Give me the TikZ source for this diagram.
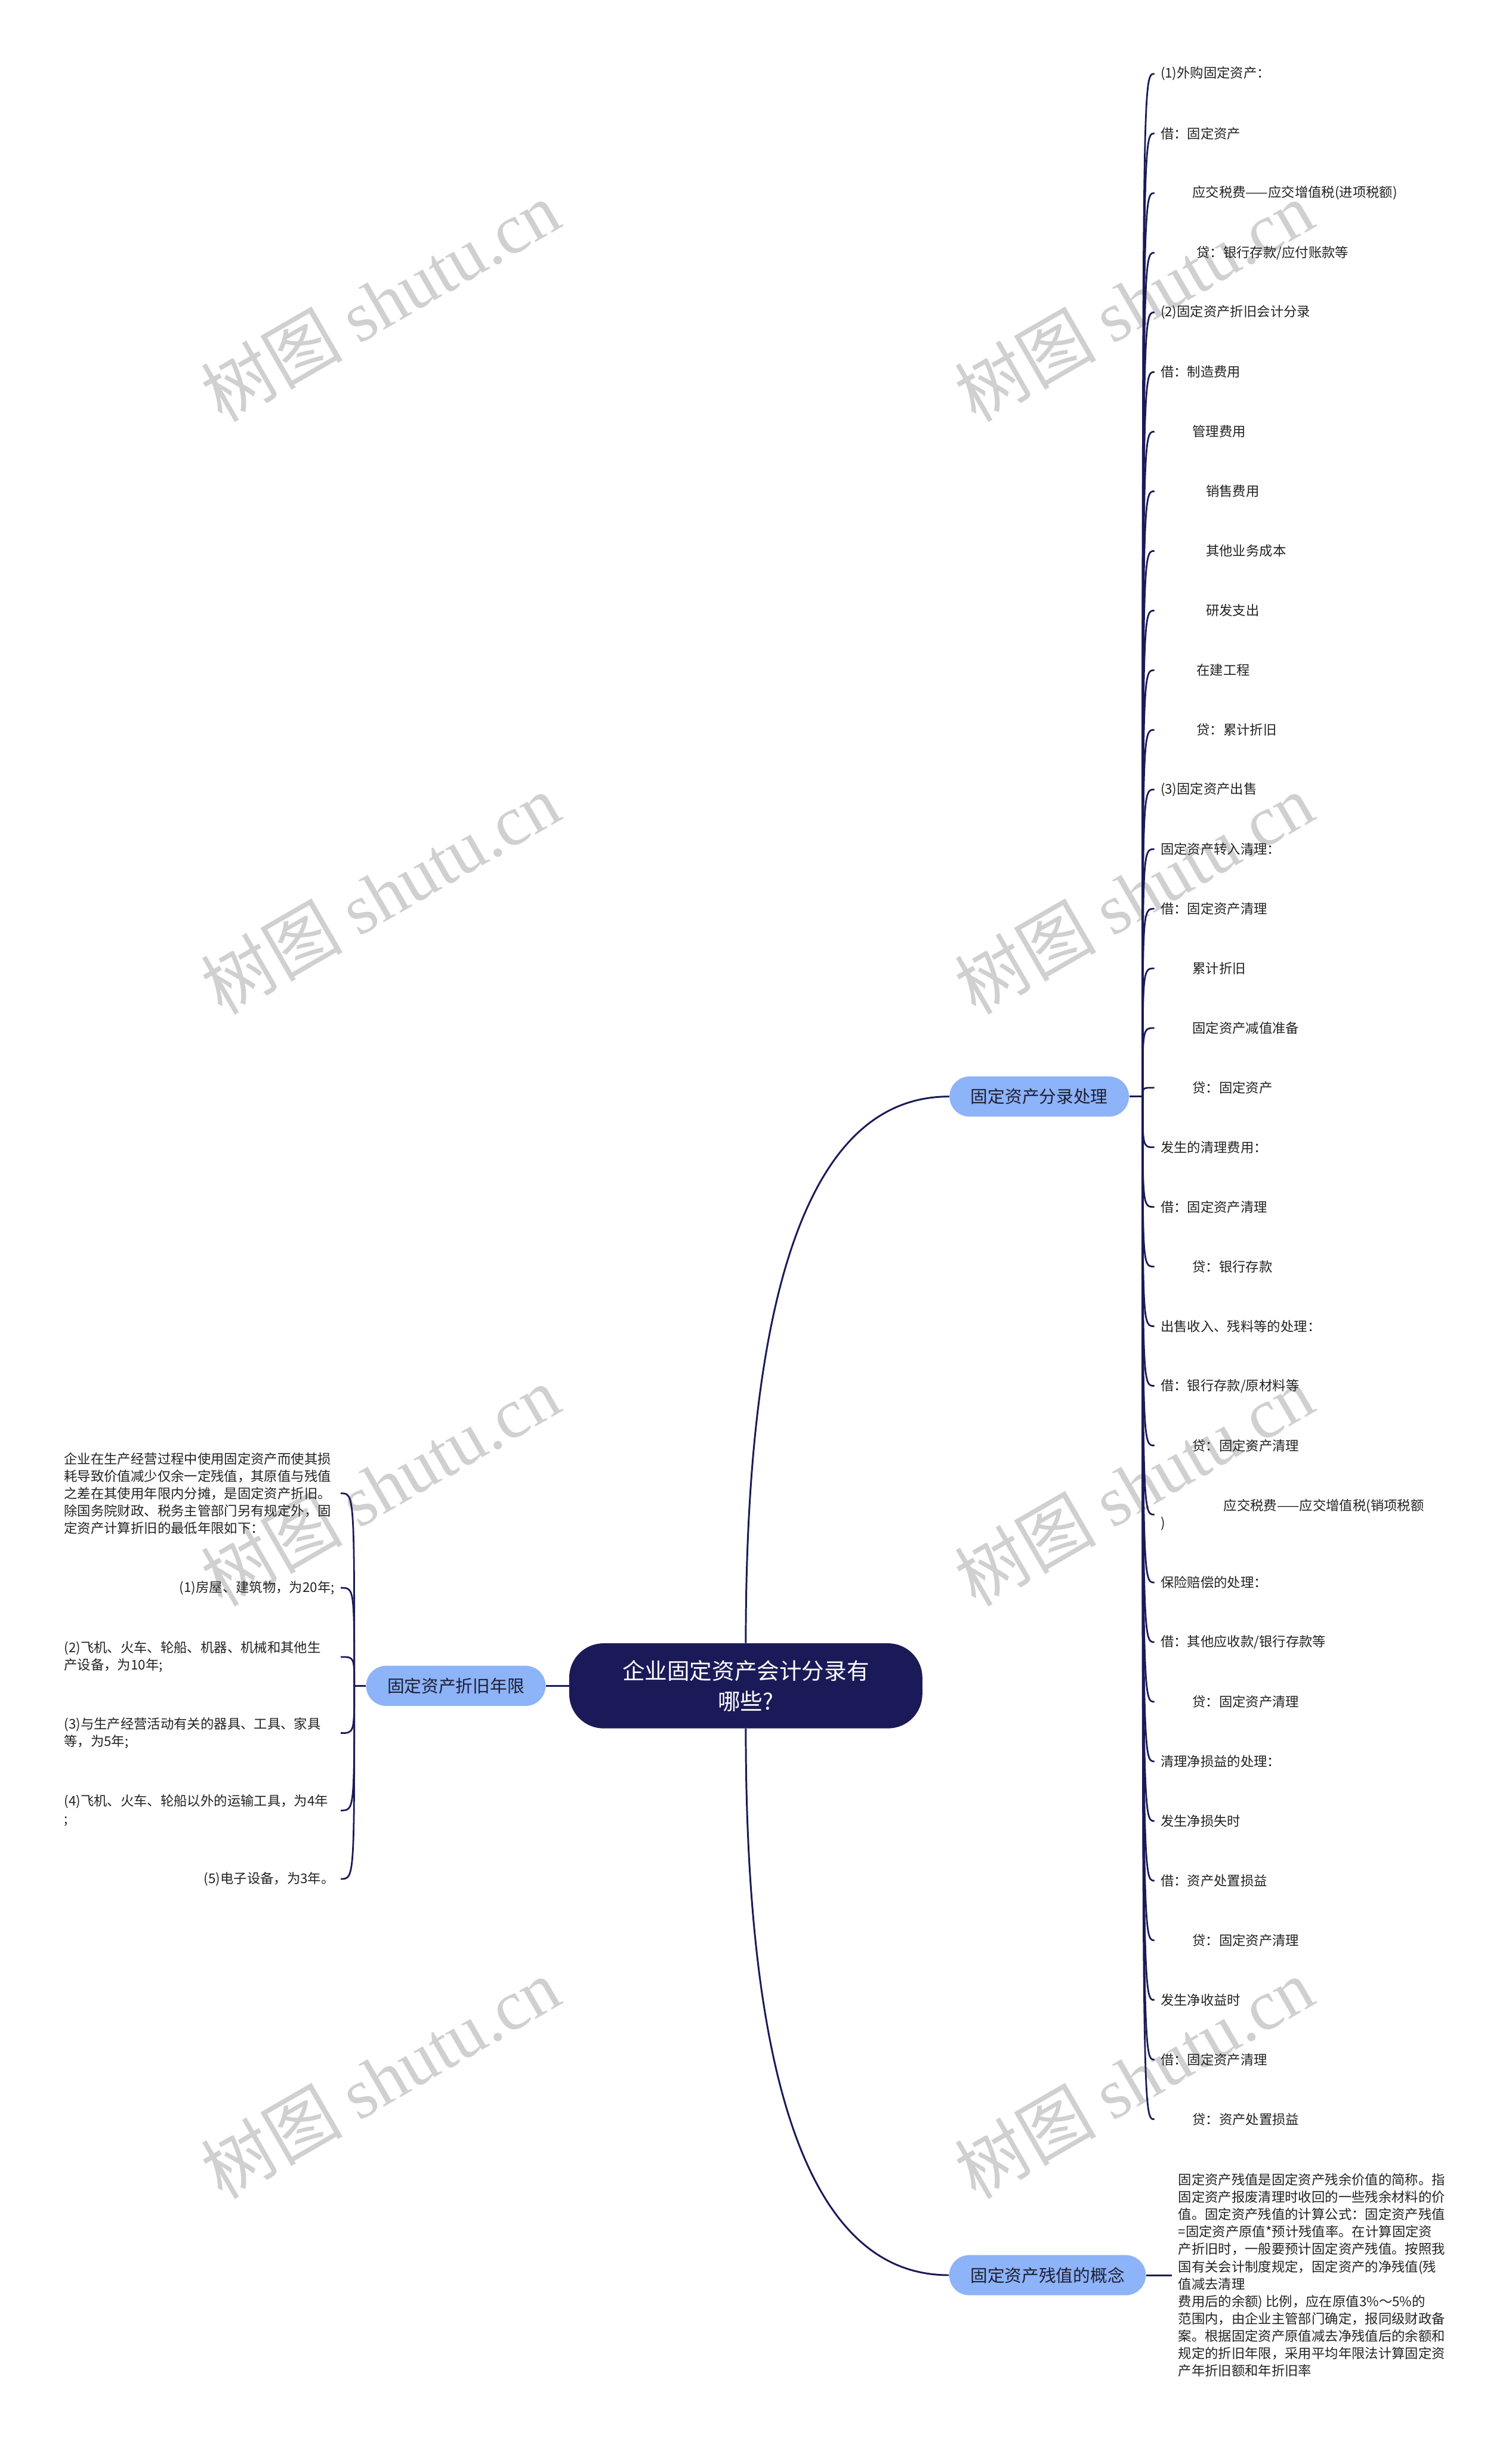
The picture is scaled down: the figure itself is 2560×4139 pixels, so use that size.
\documentclass[tikz,border=0pt]{standalone}
\usepackage{fontspec}
\setmainfont{Noto Sans CJK SC}
\newfontfamily\wmlatin{Liberation Serif}

\definecolor{inkblue}{RGB}{27,26,88}
\definecolor{skyblue}{RGB}{141,179,248}
\definecolor{leafink}{RGB}{34,34,34}
\definecolor{wmgray}{RGB}{208,208,208}

\tikzset{
  topic/.style={fill=inkblue, text=white, rounded corners=29pt, minimum width=299pt,
    minimum height=72pt, align=center, font=\fontsize{19}{26}\selectfont},
  branch/.style={fill=skyblue, text={rgb,255:red,30;green,30;blue,50}, rounded corners=17pt,
    minimum height=34pt, inner xsep=18pt, font=\fontsize{14.5}{18}\selectfont},
  leaf/.style={inner xsep=5pt, inner ysep=2pt, align=left, text=leafink,
    font=\fontsize{11.3}{14.7}\selectfont},
  leafR/.style={leaf, anchor=west},
  leafL/.style={leaf, anchor=east},
  trunk/.style={draw=inkblue, line width=1.5pt},
  twig/.style={draw=inkblue, line width=1.4pt,
    to path={.. controls (\tikztostart |- \tikztotarget) .. (\tikztotarget)}},
  wmtext/.style={text=wmgray, rotate=30, font=\fontsize{60}{60}\selectfont}
}

\begin{document}
\begin{tikzpicture}[x=0.5pt, y=-0.5pt]
  \useasboundingbox (0,0) rectangle (2560,4139);

  % watermark
  \node[wmtext] (wm1) at (644,510) {树图 {\wmlatin shutu.cn}};
  \node[wmtext] (wm2) at (1920,510) {树图 {\wmlatin shutu.cn}};
  \node[wmtext] (wm3) at (644,1513) {树图 {\wmlatin shutu.cn}};
  \node[wmtext] (wm4) at (1920,1513) {树图 {\wmlatin shutu.cn}};
  \node[wmtext] (wm5) at (644,2516) {树图 {\wmlatin shutu.cn}};
  \node[wmtext] (wm6) at (1920,2516) {树图 {\wmlatin shutu.cn}};
  \node[wmtext] (wm7) at (644,3519) {树图 {\wmlatin shutu.cn}};
  \node[wmtext] (wm8) at (1920,3519) {树图 {\wmlatin shutu.cn}};

  % centre and main branches
  \node[topic] (root) at (1263,2855) {企业固定资产会计分录有\\哪些?};
  \node[branch] (entry) at (1760,1857) {固定资产分录处理};
  \node[branch] (years) at (772,2855) {固定资产折旧年限};
  \node[branch] (salvage) at (1774,3853) {固定资产残值的概念};

  \draw[trunk] (root.north) .. controls +(0,-783) and +(-158,0) .. (entry.west);
  \draw[trunk] (root.south) .. controls +(0,783) and +(-158,0) .. (salvage.west);
  \draw[trunk] (root.west) -- (years.east);

  % journal entries
  \coordinate (hubR) at (1935,1857);
  \node[leafR] (a0) at (1955,125) {(1)外购固定资产：};
  \node[leafR] (a1) at (1955,226) {借：固定资产};
  \node[leafR] (a2) at (1955,327) {\hspace*{27pt}应交税费——应交增值税(进项税额)};
  \node[leafR] (a3) at (1955,428) {\hspace*{30.5pt}贷：银行存款/应付账款等};
  \node[leafR] (a4) at (1955,529) {(2)固定资产折旧会计分录};
  \node[leafR] (a5) at (1955,630) {借：制造费用};
  \node[leafR] (a6) at (1955,731) {\hspace*{27pt}管理费用};
  \node[leafR] (a7) at (1955,832) {\hspace*{38.5pt}销售费用};
  \node[leafR] (a8) at (1955,933) {\hspace*{38.5pt}其他业务成本};
  \node[leafR] (a9) at (1955,1034) {\hspace*{38.5pt}研发支出};
  \node[leafR] (a10) at (1955,1135) {\hspace*{30.5pt}在建工程};
  \node[leafR] (a11) at (1955,1236) {\hspace*{30.5pt}贷：累计折旧};
  \node[leafR] (a12) at (1955,1337) {(3)固定资产出售};
  \node[leafR] (a13) at (1955,1438) {固定资产转入清理：};
  \node[leafR] (a14) at (1955,1539) {借：固定资产清理};
  \node[leafR] (a15) at (1955,1640) {\hspace*{27pt}累计折旧};
  \node[leafR] (a16) at (1955,1741) {\hspace*{27pt}固定资产减值准备};
  \node[leafR] (a17) at (1955,1842) {\hspace*{27pt}贷：固定资产};
  \node[leafR] (a18) at (1955,1943) {发生的清理费用：};
  \node[leafR] (a19) at (1955,2044) {借：固定资产清理};
  \node[leafR] (a20) at (1955,2145) {\hspace*{27pt}贷：银行存款};
  \node[leafR] (a21) at (1955,2246) {出售收入、残料等的处理：};
  \node[leafR] (a22) at (1955,2347) {借：银行存款/原材料等};
  \node[leafR] (a23) at (1955,2448) {\hspace*{27pt}贷：固定资产清理};
  \node[leafR] (a24) at (1955,2565) {\hspace*{53.5pt}应交税费——应交增值税(销项税额\\)};
  \node[leafR] (a25) at (1955,2680) {保险赔偿的处理：};
  \node[leafR] (a26) at (1955,2781) {借：其他应收款/银行存款等};
  \node[leafR] (a27) at (1955,2882) {\hspace*{27pt}贷：固定资产清理};
  \node[leafR] (a28) at (1955,2983) {清理净损益的处理：};
  \node[leafR] (a29) at (1955,3084) {发生净损失时};
  \node[leafR] (a30) at (1955,3185) {借：资产处置损益};
  \node[leafR] (a31) at (1955,3286) {\hspace*{27pt}贷：固定资产清理};
  \node[leafR] (a32) at (1955,3387) {发生净收益时};
  \node[leafR] (a33) at (1955,3488) {借：固定资产清理};
  \node[leafR] (a34) at (1955,3589) {\hspace*{27pt}贷：资产处置损益};

  \draw[trunk] (entry.east) -- (hubR);
  \draw[twig] (hubR) to (a0.west);
  \draw[twig] (hubR) to (a1.west);
  \draw[twig] (hubR) to (a2.west);
  \draw[twig] (hubR) to (a3.west);
  \draw[twig] (hubR) to (a4.west);
  \draw[twig] (hubR) to (a5.west);
  \draw[twig] (hubR) to (a6.west);
  \draw[twig] (hubR) to (a7.west);
  \draw[twig] (hubR) to (a8.west);
  \draw[twig] (hubR) to (a9.west);
  \draw[twig] (hubR) to (a10.west);
  \draw[twig] (hubR) to (a11.west);
  \draw[twig] (hubR) to (a12.west);
  \draw[twig] (hubR) to (a13.west);
  \draw[twig] (hubR) to (a14.west);
  \draw[twig] (hubR) to (a15.west);
  \draw[twig] (hubR) to (a16.west);
  \draw[twig] (hubR) to (a17.west);
  \draw[twig] (hubR) to (a18.west);
  \draw[twig] (hubR) to (a19.west);
  \draw[twig] (hubR) to (a20.west);
  \draw[twig] (hubR) to (a21.west);
  \draw[twig] (hubR) to (a22.west);
  \draw[twig] (hubR) to (a23.west);
  \draw[twig] (hubR) to (a24.west);
  \draw[twig] (hubR) to (a25.west);
  \draw[twig] (hubR) to (a26.west);
  \draw[twig] (hubR) to (a27.west);
  \draw[twig] (hubR) to (a28.west);
  \draw[twig] (hubR) to (a29.west);
  \draw[twig] (hubR) to (a30.west);
  \draw[twig] (hubR) to (a31.west);
  \draw[twig] (hubR) to (a32.west);
  \draw[twig] (hubR) to (a33.west);
  \draw[twig] (hubR) to (a34.west);

  % depreciation years
  \coordinate (hubL) at (600,2855);
  \node[leafL, text width=229pt] (c0) at (577,2529) {企业在生产经营过程中使用固定资产而使其损\\耗导致价值减少仅余一定残值，其原值与残值\\之差在其使用年限内分摊，是固定资产折旧。\\除国务院财政、税务主管部门另有规定外，固\\定资产计算折旧的最低年限如下：};
  \node[leafL] (c1) at (577,2689) {(1)房屋、建筑物，为20年;};
  \node[leafL, text width=229pt] (c2) at (577,2806) {(2)飞机、火车、轮船、机器、机械和其他生\\产设备，为10年;};
  \node[leafL, text width=229pt] (c3) at (577,2935) {(3)与生产经营活动有关的器具、工具、家具\\等，为5年;};
  \node[leafL, text width=229pt] (c4) at (577,3066) {(4)飞机、火车、轮船以外的运输工具，为4年\\;};
  \node[leafL] (c5) at (577,3182) {(5)电子设备，为3年。};

  \draw[trunk] (years.west) -- (hubL);
  \draw[twig] (hubL) to (c0.east);
  \draw[twig] (hubL) to (c1.east);
  \draw[twig] (hubL) to (c2.east);
  \draw[twig] (hubL) to (c3.east);
  \draw[twig] (hubL) to (c4.east);
  \draw[twig] (hubL) to (c5.east);

  % salvage value
  \node[leafR] (d0) at (1985,3853) {固定资产残值是固定资产残余价值的简称。指\\固定资产报废清理时收回的一些残余材料的价\\值。固定资产残值的计算公式：固定资产残值\\=固定资产原值*预计残值率。在计算固定资\\产折旧时，一般要预计固定资产残值。按照我\\国有关会计制度规定，固定资产的净残值(残\\值减去清理\\费用后的余额) 比例，应在原值3\%～5\%的\\范围内，由企业主管部门确定，报同级财政备\\案。根据固定资产原值减去净残值后的余额和\\规定的折旧年限，采用平均年限法计算固定资\\产年折旧额和年折旧率};
  \draw[trunk] (salvage.east) -- (d0.west);
\end{tikzpicture}
\end{document}
